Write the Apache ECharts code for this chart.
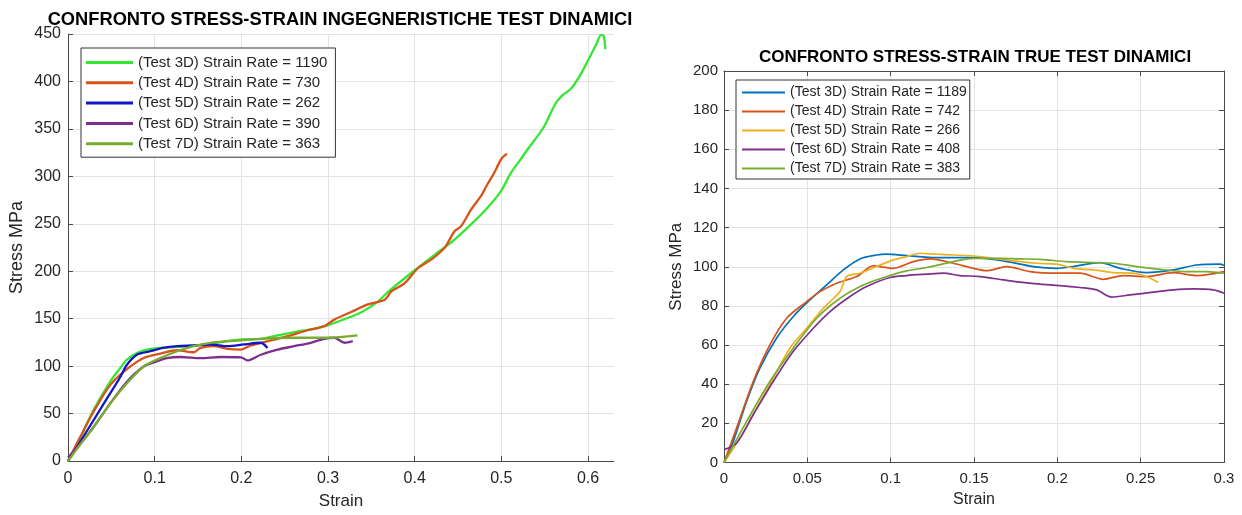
<!DOCTYPE html>
<html>
<head>
<meta charset="utf-8">
<script src="https://cdn.jsdelivr.net/npm/echarts@6/dist/echarts.min.js"></script>
<style>
  html, body { margin: 0; padding: 0; background: #ffffff; }
  #chart { width: 1242px; height: 515px; }
</style>
</head>
<body>
<div id="chart"></div>
<script>
// ---- Engineering stress-strain curves, dynamic tests: [strain, stress MPa] ----
const eng3D = [[0,0],[0.0139,24],[0.0293,53.4],[0.0486,83.6],[0.0602,97.9],[0.068,106.8],[0.0795,113.9],[0.0911,117.4],[0.1066,119.2],[0.1259,120.3],[0.1452,121.7],[0.1645,123.8],[0.1838,126.3],[0.1996,128.1],[0.2224,128.8],[0.2417,132.4],[0.261,135.9],[0.2803,138.8],[0.2996,143],[0.319,149.5],[0.338,156.6],[0.3575,168],[0.369,178],[0.4,201],[0.4268,220],[0.446,233.4],[0.465,249.3],[0.484,267],[0.5,285],[0.51,302],[0.52,315],[0.53,328],[0.549,352],[0.562,376],[0.57,385],[0.58,392],[0.59,405],[0.6,422],[0.61,440],[0.615,449],[0.618,448],[0.62,434]];
const eng4D = [[0,0],[0.0139,24.9],[0.0293,51.6],[0.0486,80],[0.068,96.8],[0.0873,108.5],[0.1066,113.2],[0.126,116.7],[0.145,114.6],[0.153,119.2],[0.168,121],[0.184,118.1],[0.1996,117.4],[0.211,121.7],[0.23,126],[0.2533,131.5],[0.2764,137.8],[0.2957,142.1],[0.3073,149],[0.3266,157],[0.346,165],[0.3655,170],[0.373,178.7],[0.3885,187.5],[0.404,203.4],[0.419,212.2],[0.4345,224.6],[0.446,242.2],[0.4536,247.5],[0.465,265],[0.4766,279.3],[0.484,291.7],[0.492,304],[0.4977,314.7],[0.5015,320],[0.5065,324]];
const eng5D = [[0,0],[0.0139,20],[0.0293,42.7],[0.0486,71.2],[0.06,88],[0.068,101.4],[0.0795,112],[0.095,115.7],[0.11,119.2],[0.126,121],[0.145,121.7],[0.1645,122.8],[0.184,121],[0.203,122.8],[0.2224,124.6],[0.2301,119.2]];
const eng6D = [[0,3.6],[0.0139,18],[0.0293,35.6],[0.0486,60.5],[0.068,83.6],[0.0873,99.6],[0.1027,105],[0.114,108.5],[0.13,109.6],[0.153,108.5],[0.176,109.6],[0.1996,109.3],[0.207,106],[0.2224,112],[0.2417,117.4],[0.261,121],[0.28,124.6],[0.2957,128.8],[0.3073,129.9],[0.319,124.6],[0.3286,126.3]];
const eng7D = [[0,0],[0.0139,17],[0.0293,35.6],[0.0486,60.5],[0.068,81.9],[0.0873,99.6],[0.1066,108.5],[0.126,115.7],[0.145,121],[0.1645,124.6],[0.184,126.3],[0.203,127.4],[0.2224,128.8],[0.261,129.9],[0.2996,129.9],[0.334,132.4]];

// ---- True stress-strain curves, dynamic tests: [strain, stress MPa] ----
const true3D = [[0,0],[0.0056,10.9],[0.0136,31.3],[0.0216,48.3],[0.0316,63.6],[0.0416,74.6],[0.0516,83.1],[0.0616,90.7],[0.0716,98.4],[0.0816,104],[0.0916,106],[0.0976,106.4],[0.1096,105.7],[0.1276,104.7],[0.1496,104.7],[0.1676,103],[0.1856,100.1],[0.1996,99.2],[0.2096,100.1],[0.2256,102.1],[0.2376,99.2],[0.2536,97],[0.2696,98.4],[0.2836,100.9],[0.2976,101.3],[0.3,100.6]];
const true4D = [[0,0],[0.0076,17.7],[0.0176,41.5],[0.0276,60.2],[0.0376,73.7],[0.0496,82.2],[0.0576,87.3],[0.0676,91.6],[0.0796,95],[0.0896,100.4],[0.1016,99.2],[0.1136,102.6],[0.1236,104],[0.1376,101.8],[0.1496,99.2],[0.1576,98],[0.1696,100.1],[0.1836,97.5],[0.2,96.7],[0.2136,96.7],[0.2276,93.6],[0.2396,95.5],[0.2536,95],[0.2696,97],[0.2836,95.5],[0.3,97.5]];
const true5D = [[0,0],[0.0096,12.6],[0.0196,27.9],[0.0296,43.2],[0.0396,58.5],[0.0496,68.6],[0.0596,78.8],[0.0696,87.3],[0.0736,95],[0.0816,96.7],[0.0916,100.1],[0.1016,103.5],[0.1096,105.2],[0.1176,106.9],[0.1276,106.4],[0.1376,106],[0.1496,105.5],[0.1616,104.3],[0.1736,103],[0.1876,101.8],[0.1996,101.3],[0.2096,99.2],[0.2216,98.4],[0.2336,97],[0.2456,96.7],[0.2536,95],[0.2606,91.9]];
const true6D = [[0,6.6],[0.0076,10],[0.0176,24.5],[0.0296,41.5],[0.0416,56.8],[0.0536,68.6],[0.0636,77.1],[0.0756,84.8],[0.0856,89.9],[0.0996,94.5],[0.1096,95.5],[0.1216,96.2],[0.1316,96.7],[0.1416,95.5],[0.1536,95],[0.1676,93.3],[0.1776,92.1],[0.1896,91.1],[0.2016,90.4],[0.2136,89.4],[0.2236,88.2],[0.2326,84.5],[0.2436,85.6],[0.2576,87],[0.2696,88.2],[0.2816,88.7],[0.2936,88.2],[0.3,86.5]];
const true7D = [[0,0],[0.0136,21],[0.0276,41.5],[0.0416,58.5],[0.0556,73.7],[0.0696,83.9],[0.0836,90.7],[0.0976,95],[0.1096,97.9],[0.1216,99.6],[0.1376,102.6],[0.1496,104.3],[0.1656,104.3],[0.1776,104],[0.1896,103.8],[0.2056,102.6],[0.2216,102.1],[0.2336,101.8],[0.2476,100.1],[0.2616,98.7],[0.2776,97.5],[0.2896,97.5],[0.3,96.7]];

// ---- Legend labels ----
const engNames = ['(Test 3D) Strain Rate = 1190', '(Test 4D) Strain Rate = 730', '(Test 5D) Strain Rate = 262', '(Test 6D) Strain Rate = 390', '(Test 7D) Strain Rate = 363'];
const trueNames = ['(Test 3D) Strain Rate = 1189', '(Test 4D) Strain Rate = 742', '(Test 5D) Strain Rate = 266', '(Test 6D) Strain Rate = 408', '(Test 7D) Strain Rate = 383'];

const engColors = ['#35e635', '#d95319', '#1414c8', '#7e2f8e', '#77ac30'];
const trueColors = ['#0072bd', '#d95319', '#edb120', '#7e2f8e', '#77ac30'];

const FONT = '"Liberation Sans", Arial, Helvetica, sans-serif';
const TXT = '#262626';
const AXIS = '#4a4a4a';
const GRID = '#e3e3e3';

function mkSeries(name, data, color, width, xi, yi) {
  return {
    name: name, type: 'line', data: data,
    xAxisIndex: xi, yAxisIndex: yi,
    symbol: 'none', smooth: 0.3, clip: true,
    lineStyle: { color: color, width: width },
    itemStyle: { color: color },
    emphasis: { disabled: true }
  };
}

function valueAxis(o) {
  return Object.assign({
    type: 'value',
    axisLine: { show: true, onZero: false, lineStyle: { color: AXIS, width: 1 } },
    axisTick: { show: true, inside: true, length: 5, lineStyle: { color: AXIS } },
    axisLabel: { color: TXT, fontFamily: FONT },
    splitLine: { show: true, lineStyle: { color: GRID, width: 1 } },
    nameTextStyle: { color: TXT, fontFamily: FONT }
  }, o);
}

const engSeriesData = [eng3D, eng4D, eng5D, eng6D, eng7D];
const trueSeriesData = [true3D, true4D, true5D, true6D, true7D];

const series = [];
engSeriesData.forEach((d, i) => series.push(mkSeries(engNames[i], d, engColors[i], 2.3, 0, 0)));
trueSeriesData.forEach((d, i) => series.push(mkSeries(trueNames[i], d, trueColors[i], 1.7, 1, 1)));

const option = {
  animation: false,
  backgroundColor: '#ffffff',
  textStyle: { fontFamily: FONT },
  title: [
    { text: 'CONFRONTO STRESS-STRAIN INGEGNERISTICHE TEST DINAMICI', left: 340, top: 11, padding: 0, textAlign: 'center',
      textStyle: { fontSize: 18.3, fontWeight: 'bold', color: '#000', fontFamily: FONT } },
    { text: 'CONFRONTO STRESS-STRAIN TRUE TEST DINAMICI', left: 975, top: 49, padding: 0, textAlign: 'center',
      textStyle: { fontSize: 17, fontWeight: 'bold', color: '#000', fontFamily: FONT } }
  ],
  grid: [
    { left: 68, top: 34, width: 546, height: 429.5 },
    { left: 724, top: 71, width: 500, height: 391.5, show: false }
  ],
  xAxis: [
    valueAxis({ gridIndex: 0, min: 0, max: 0.63, interval: 0.1,
      axisLabel: { color: TXT, fontFamily: FONT, fontSize: 16, margin: 10, showMaxLabel: false },
      splitLine: { show: true, showMaxLine: false, lineStyle: { color: GRID } },
      name: 'Strain', nameLocation: 'middle', nameGap: 32,
      nameTextStyle: { color: TXT, fontFamily: FONT, fontSize: 17 } }),
    valueAxis({ gridIndex: 1, min: 0, max: 0.3, interval: 0.05, position: 'bottom',
      axisLabel: { color: TXT, fontFamily: FONT, fontSize: 15, margin: 9 },
      name: 'Strain', nameLocation: 'middle', nameGap: 27,
      nameTextStyle: { color: TXT, fontFamily: FONT, fontSize: 16 } }),
    valueAxis({ gridIndex: 1, min: 0, max: 0.3, interval: 0.05, position: 'top',
      axisLabel: { show: false }, splitLine: { show: false } })
  ],
  yAxis: [
    valueAxis({ gridIndex: 0, min: 0, max: 450, interval: 50,
      axisLabel: { color: TXT, fontFamily: FONT, fontSize: 16, margin: 7 },
      name: 'Stress MPa', nameLocation: 'middle', nameGap: 42,
      nameTextStyle: { color: TXT, fontFamily: FONT, fontSize: 18 } }),
    valueAxis({ gridIndex: 1, min: 0, max: 200, interval: 20, position: 'left',
      axisLabel: { color: TXT, fontFamily: FONT, fontSize: 15, margin: 6 },
      name: 'Stress MPa', nameLocation: 'middle', nameGap: 39,
      nameTextStyle: { color: TXT, fontFamily: FONT, fontSize: 17 } }),
    valueAxis({ gridIndex: 1, min: 0, max: 200, interval: 20, position: 'right',
      axisLabel: { show: false }, splitLine: { show: false } })
  ],
  legend: [
    { data: engNames, orient: 'vertical', left: 81, top: 48,
      icon: 'rect', itemWidth: 47, itemHeight: 3, itemGap: 5.3, padding: [7, 8, 6, 5],
      backgroundColor: '#ffffff', borderColor: '#333333', borderWidth: 1, borderRadius: 0,
      textStyle: { color: TXT, fontSize: 15, fontFamily: FONT },
      selectedMode: false },
    { data: trueNames, orient: 'vertical', left: 736, top: 80,
      icon: 'rect', itemWidth: 43, itemHeight: 2.2, itemGap: 5, padding: [5.5, 3, 3.5, 6],
      backgroundColor: '#ffffff', borderColor: '#333333', borderWidth: 1, borderRadius: 0,
      textStyle: { color: TXT, fontSize: 14, fontFamily: FONT },
      selectedMode: false }
  ],
  series: series
};

const chart = echarts.init(document.getElementById('chart'), null, { renderer: 'canvas' });
chart.setOption(option);
</script>
</body>
</html>
